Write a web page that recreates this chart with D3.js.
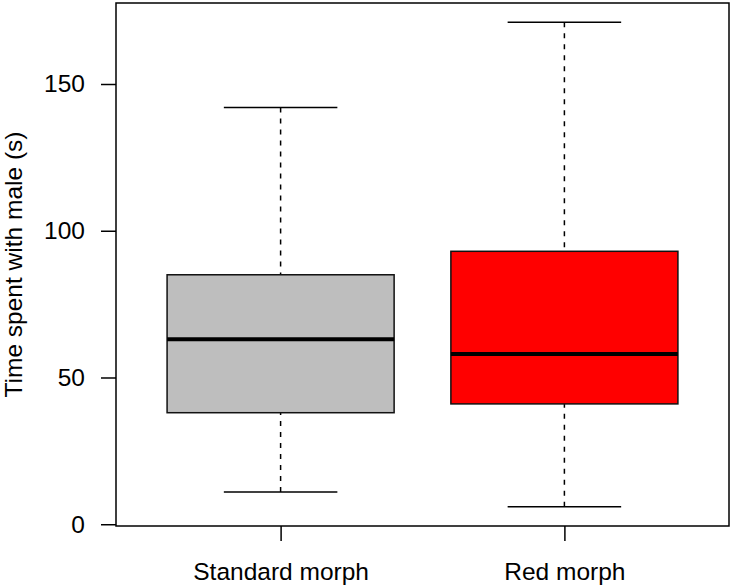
<!DOCTYPE html>
<html><head><meta charset="utf-8">
<script src="https://cdn.jsdelivr.net/npm/d3@7"></script>
<style>body{margin:0;background:#fff}svg{display:block}text{font-family:"Liberation Sans",Arial,sans-serif;fill:#000}</style>
</head><body>
<svg id="c" width="733" height="588"></svg>
<script>
const categories = ["Standard morph", "Red morph"];
const whiskerLow = [11, 6];
const q1 = [38, 41];
const median = [63, 58];
const q3 = [85, 93];
const whiskerHigh = [142, 171];
const boxColors = ["#BEBEBE", "#FF0000"];
const yTicks = [0, 50, 100, 150];
const yTitle = "Time spent with male (s)";

const svg = d3.select("#c");
const L = 116, R = 729, T = 3, B = 526;
const y = d3.scaleLinear().domain([-0.6, 177.6]).range([B, T]);
const x = d3.scaleLinear().domain([0.42, 2.58]).range([L, R]);
const bw = 0.4; // half box width in x units

const fs = 24.5;
const data = categories.map((c, i) => ({c, i: i + 1, lo: whiskerLow[i], q1: q1[i], med: median[i], q3: q3[i], hi: whiskerHigh[i], col: boxColors[i]}));

const g = svg.append("g");
data.forEach(d => {
  const cx = x(d.i);
  g.append("line").attr("x1", cx).attr("x2", cx).attr("y1", y(d.hi)).attr("y2", y(d.q3))
    .attr("stroke", "#000").attr("stroke-width", 1.5).attr("stroke-dasharray", "5,6");
  g.append("line").attr("x1", cx).attr("x2", cx).attr("y1", y(d.lo)).attr("y2", y(d.q1))
    .attr("stroke", "#000").attr("stroke-width", 1.5).attr("stroke-dasharray", "5,6");
  [d.hi, d.lo].forEach(v => {
    g.append("line").attr("x1", x(d.i - bw / 2)).attr("x2", x(d.i + bw / 2)).attr("y1", y(v)).attr("y2", y(v))
      .attr("stroke", "#000").attr("stroke-width", 1.5);
  });
  g.append("rect").attr("x", x(d.i - bw)).attr("width", x(d.i + bw) - x(d.i - bw))
    .attr("y", y(d.q3)).attr("height", y(d.q1) - y(d.q3))
    .attr("fill", d.col).attr("stroke", "#111").attr("stroke-width", 1.5);
  g.append("line").attr("x1", x(d.i - bw)).attr("x2", x(d.i + bw)).attr("y1", y(d.med)).attr("y2", y(d.med))
    .attr("stroke", "#000").attr("stroke-width", 4);
});

svg.append("rect").attr("x", L).attr("y", T).attr("width", R - L).attr("height", B - T)
  .attr("fill", "none").attr("stroke", "#000").attr("stroke-width", 1.5);

const ya = svg.append("g").attr("transform", `translate(${L},0)`)
  .call(d3.axisLeft(y).tickValues(yTicks).tickSize(15).tickPadding(16).tickSizeOuter(0));
ya.select(".domain").remove();
ya.selectAll("line").attr("stroke", "#000").attr("stroke-width", 1.5);
ya.selectAll("text").style("font-size", fs + "px").attr("fill", "#000");

const xa = svg.append("g").attr("transform", `translate(0,${B})`)
  .call(d3.axisBottom(x).tickValues([1, 2]).tickFormat(d => categories[d - 1]).tickSize(15).tickPadding(22).tickSizeOuter(0));
xa.select(".domain").remove();
xa.selectAll("line").attr("stroke", "#000").attr("stroke-width", 1.5);
xa.selectAll("text").style("font-size", fs + "px").attr("fill", "#000");

svg.append("text").attr("transform", `translate(22,${(T + B) / 2}) rotate(-90)`)
  .attr("text-anchor", "middle").style("font-size", fs + "px").text(yTitle);
</script>
</body></html>
